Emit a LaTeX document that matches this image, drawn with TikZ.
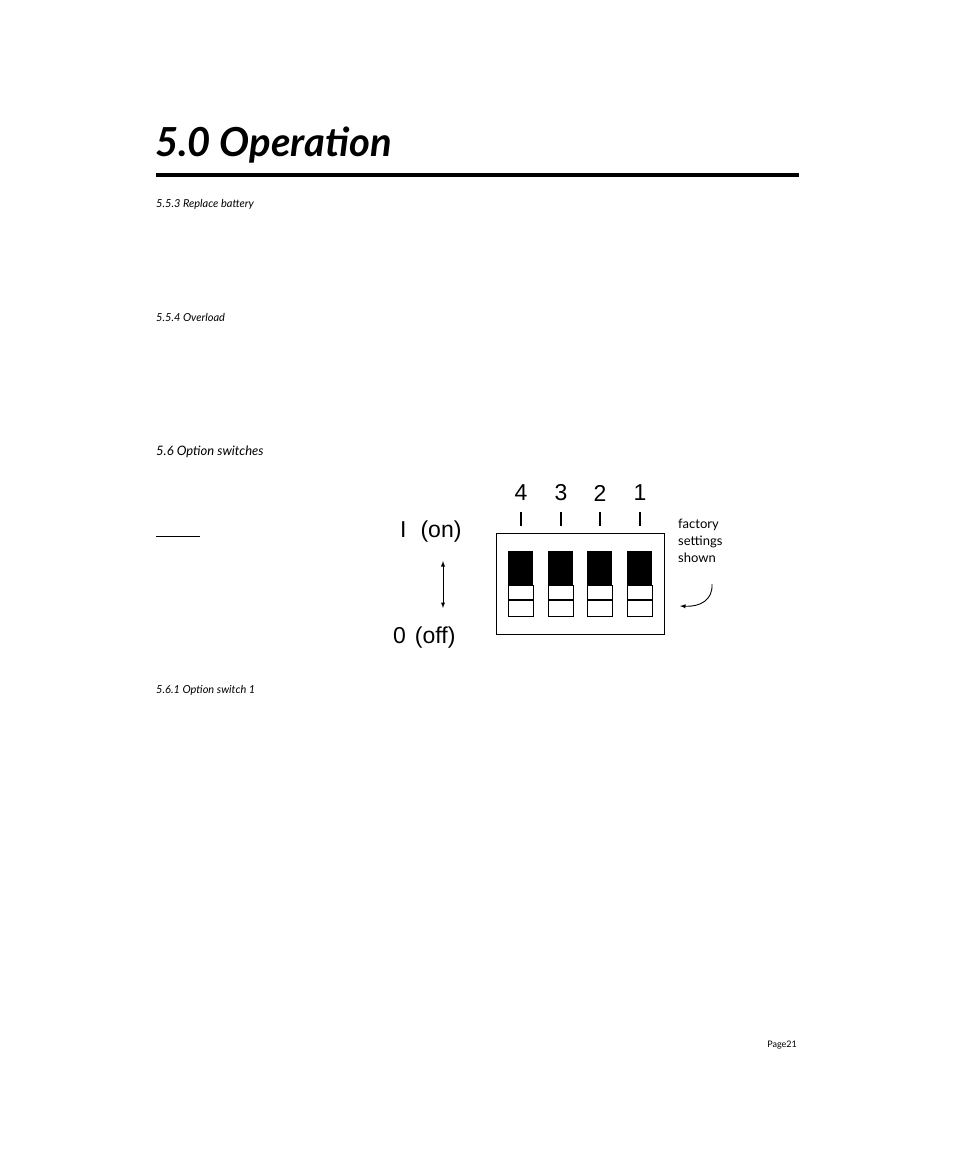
\documentclass[tikz,border=0pt]{standalone}
\usepackage{fontspec}
\setmainfont{Lato}
\newfontfamily\arialf{Liberation Sans}
\begin{document}
\begin{tikzpicture}[x=1pt,y=-1pt,
  head/.style={anchor=west,inner sep=0pt,font=\itshape\fontsize{11}{13}\selectfont},
  lab/.style={inner sep=0pt,font=\arialf\fontsize{23}{26}\selectfont},
  sw/.style={draw,line width=0.8pt}]
\useasboundingbox (0,0) rectangle (954,1159);
\node[anchor=west,inner sep=0pt,font=\bfseries\itshape\fontsize{40}{44}\selectfont] (title) at (155,145) {5.0 Operation};
\draw[line width=3.5pt] (156,175) -- (799,175);
\node[head] (h1) at (156,204) {5.5.3 Replace battery};
\node[head] (h2) at (156,317) {5.5.4 Overload};
\node[head,font=\itshape\fontsize{13}{15}\selectfont] (h3) at (156,452) {5.6 Option switches};
\node[head] (h4) at (156,690) {5.6.1 Option switch 1};
\node[anchor=east,inner sep=0pt,font=\fontsize{9}{10}\selectfont] (pg) at (797,1045) {Page21};
\draw[line width=0.8pt] (156,536) -- (200,536);
% diagram
\node[lab,anchor=west] (on) at (400,532) {I\hspace{14pt}(on)};
\node[lab,anchor=west] (off) at (393,638) {0\hspace{9pt}(off)};
\coordinate (at) at (443,561); \coordinate (ab) at (443,608);
\draw[<->,>=latex,line width=0.9pt] (at) -- (ab);
\draw[line width=0.9pt] (496,533) rectangle (664,634);
\foreach \x/\n in {508/4,548/3,587/2,627/1}{
  \fill (\x,551) rectangle ++(25,34);
  \draw[sw] (\x,585) rectangle ++(25,31);
  \draw[line width=1.2pt] (\x,600) -- ++(25,0);
  \node[lab] (n\n) at (\x+13,493) {\n};
  \draw[line width=2.5pt] (\x+13,512) -- (\x+13,526);
}
\node[anchor=north west,inner sep=0pt,align=left,font=\fontsize{13}{17}\selectfont] (fs) at (678,519) {factory\\settings\\shown};
\coordinate (c1) at (712,584); \coordinate (c2) at (680,606);
\draw[->,>=latex,line width=0.9pt] (c1) .. controls (713,600) and (700,607) .. (c2);
\end{tikzpicture}
\end{document}
